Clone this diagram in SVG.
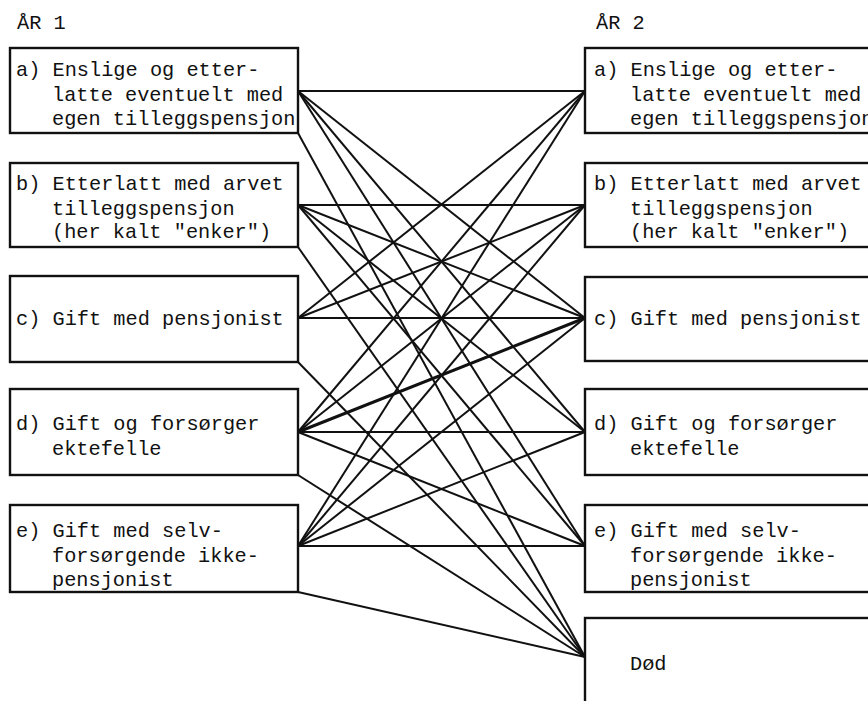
<svg xmlns="http://www.w3.org/2000/svg" width="868" height="701" viewBox="0 0 868 701">
<style>
text{font-family:"Liberation Mono","DejaVu Sans Mono",monospace;font-size:20.3px;fill:#111}
.box{fill:#fff;stroke:#111;stroke-width:2.4}
#connectors line{stroke:#111;stroke-width:2}
#connectors line.bold{stroke-width:3}
</style>
<rect width="868" height="701" fill="#fff"/>
<text x="17" y="29">ÅR 1</text>
<text x="596" y="29">ÅR 2</text>
<g id="connectors">
<line x1="298" y1="91" x2="585" y2="91"/>
<line x1="298" y1="91" x2="585" y2="318"/>
<line x1="298" y1="91" x2="585" y2="432"/>
<line x1="298" y1="91" x2="585" y2="546"/>
<line x1="298" y1="133" x2="585" y2="657"/>
<line x1="298" y1="205" x2="585" y2="205"/>
<line x1="298" y1="205" x2="585" y2="318"/>
<line x1="298" y1="205" x2="585" y2="432"/>
<line x1="298" y1="205" x2="585" y2="546"/>
<line x1="298" y1="247" x2="585" y2="657"/>
<line x1="298" y1="318" x2="585" y2="91"/>
<line x1="298" y1="318" x2="585" y2="205"/>
<line x1="298" y1="318" x2="585" y2="318"/>
<line x1="298" y1="362" x2="585" y2="657"/>
<line x1="298" y1="432" x2="585" y2="91"/>
<line x1="298" y1="432" x2="585" y2="205"/>
<line class="bold" x1="298" y1="432" x2="585" y2="318"/>
<line x1="298" y1="432" x2="585" y2="432"/>
<line x1="298" y1="432" x2="585" y2="546"/>
<line x1="298" y1="475" x2="585" y2="657"/>
<line x1="298" y1="546" x2="585" y2="91"/>
<line x1="298" y1="546" x2="585" y2="205"/>
<line x1="298" y1="546" x2="585" y2="318"/>
<line x1="298" y1="546" x2="585" y2="432"/>
<line x1="298" y1="546" x2="585" y2="546"/>
<line x1="298" y1="592" x2="585" y2="657"/>
</g>
<g id="left-a"><rect class="box" x="10" y="48" width="288" height="85"/>
<text x="16" y="76">a) Enslige og etter-</text><text x="52" y="101">latte eventuelt med</text><text x="52" y="125">egen tilleggspensjon</text></g>
<g id="left-b"><rect class="box" x="10" y="163" width="288" height="84"/>
<text x="16" y="190">b) Etterlatt med arvet</text><text x="52" y="215">tilleggspensjon</text><text x="52" y="238">(her kalt "enker")</text></g>
<g id="left-c"><rect class="box" x="10" y="276" width="288" height="86"/>
<text x="16" y="325">c) Gift med pensjonist</text></g>
<g id="left-d"><rect class="box" x="10" y="389" width="288" height="86"/>
<text x="16" y="430">d) Gift og forsørger</text><text x="52" y="455">ektefelle</text></g>
<g id="left-e"><rect class="box" x="10" y="505" width="288" height="87"/>
<text x="16" y="537">e) Gift med selv-</text><text x="52" y="562">forsørgende ikke-</text><text x="52" y="586">pensjonist</text></g>
<g id="right-a"><rect class="box" x="585" y="48" width="300" height="85"/>
<text x="594" y="76">a) Enslige og etter-</text><text x="630" y="101">latte eventuelt med</text><text x="630" y="125">egen tilleggspensjon</text></g>
<g id="right-b"><rect class="box" x="585" y="163" width="300" height="84"/>
<text x="594" y="190">b) Etterlatt med arvet</text><text x="630" y="215">tilleggspensjon</text><text x="630" y="238">(her kalt "enker")</text></g>
<g id="right-c"><rect class="box" x="585" y="277" width="300" height="84"/>
<text x="594" y="325">c) Gift med pensjonist</text></g>
<g id="right-d"><rect class="box" x="585" y="389" width="300" height="86"/>
<text x="594" y="430">d) Gift og forsørger</text><text x="630" y="455">ektefelle</text></g>
<g id="right-e"><rect class="box" x="585" y="505" width="300" height="87"/>
<text x="594" y="537">e) Gift med selv-</text><text x="630" y="562">forsørgende ikke-</text><text x="630" y="586">pensjonist</text></g>
<g id="right-dod"><rect class="box" x="585" y="618" width="300" height="100"/>
<text x="630" y="670">Død</text></g>
</svg>
